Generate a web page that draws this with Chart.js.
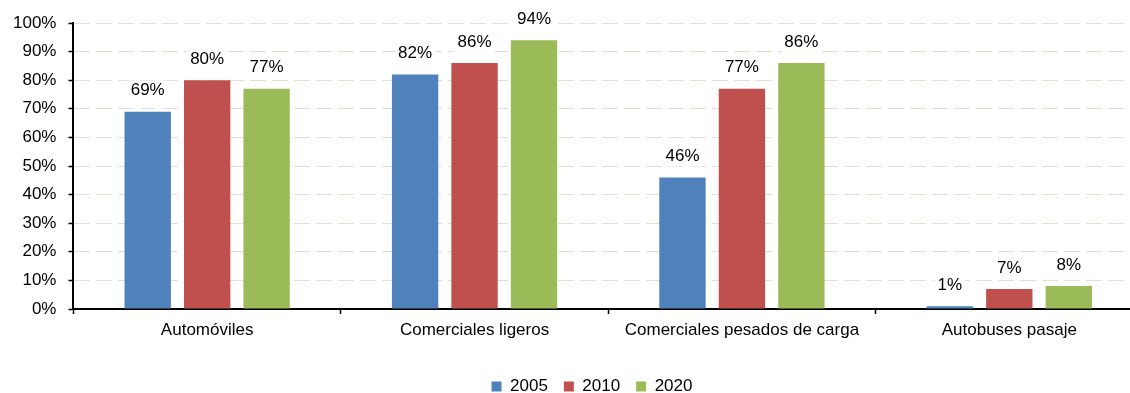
<!DOCTYPE html>
<html>
<head>
<meta charset="utf-8">
<script src="https://cdn.jsdelivr.net/npm/chart.js@4"></script>
<style>
  html, body { margin: 0; padding: 0; background: #fff; overflow: hidden; }
  #wrap { position: absolute; left: 0; top: 0; width: 1183px; height: 405px; }
</style>
</head>
<body>
<div id="wrap"><canvas id="grafico"></canvas></div>
<script>
// Categorías de vehículos y porcentajes por año
const categorias = ['Automóviles', 'Comerciales ligeros', 'Comerciales pesados de carga', 'Autobuses pasaje'];
const anios = ['2005', '2010', '2020'];
const valores2005 = [69, 82, 46, 1];
const valores2010 = [80, 86, 77, 7];
const valores2020 = [77, 94, 86, 8];
const colores = ['#4F81BD', '#C0504D', '#9BBB59'];

const fuente = '"Liberation Sans", Arial, sans-serif';
Chart.defaults.font.family = fuente;
Chart.defaults.font.size = 17;
Chart.defaults.color = '#000';

// Etiquetas de valor encima de cada barra (fondo blanco)
const etiquetasValor = {
  id: 'etiquetasValor',
  afterDatasetsDraw(chart) {
    const ctx = chart.ctx;
    ctx.save();
    ctx.font = '17px ' + fuente;
    ctx.textAlign = 'center';
    ctx.textBaseline = 'middle';
    chart.data.datasets.forEach((ds, i) => {
      chart.getDatasetMeta(i).data.forEach((bar, j) => {
        const txt = ds.data[j] + '%';
        const w = ctx.measureText(txt).width;
        const y = bar.y - 21;
        ctx.fillStyle = '#fff';
        ctx.fillRect(bar.x - w / 2 - 3, y - 10, w + 6, 20);
        ctx.fillStyle = '#000';
        ctx.fillText(txt, bar.x, y);
      });
    });
    ctx.restore();
  }
};

// Desplaza un poco la leyenda hacia la derecha
const moverLeyenda = {
  id: 'moverLeyenda',
  afterLayout(chart) {
    chart.legend.left += 20;
    chart.legend.right += 20;
  }
};

const series = [valores2005, valores2010, valores2020];

new Chart(document.getElementById('grafico'), {
  type: 'bar',
  data: {
    labels: categorias,
    datasets: series.map((v, i) => ({
      label: anios[i],
      data: v,
      backgroundColor: colores[i],
      borderWidth: 0,
      categoryPercentage: 0.667,
      barPercentage: 0.78
    }))
  },
  options: {
    responsive: true,
    maintainAspectRatio: false,
    animation: false,
    layout: { padding: { top: 23, left: 1, right: 40, bottom: 0 } },
    plugins: {
      legend: {
        position: 'bottom',
        labels: { boxWidth: 10, boxHeight: 10, padding: 16, font: { size: 17 } }
      },
      tooltip: { enabled: false }
    },
    scales: {
      x: {
        offset: true,
        afterFit(scale) { scale.height = 53; },
        grid: { offset: true, drawOnChartArea: false, tickLength: 5, tickColor: '#000', tickWidth: 1.5 },
        border: { color: '#000', width: 2 },
        ticks: { padding: 6, maxRotation: 0 }
      },
      y: {
        min: 0,
        max: 100,
        ticks: { stepSize: 10, padding: 12, callback: v => v + '%' },
        grid: { color: '#E3E0D3', tickLength: 5, tickColor: '#000', tickWidth: 1.5 },
        border: { color: '#000', width: 2, dash: [16, 6] }
      }
    }
  },
  plugins: [etiquetasValor, moverLeyenda]
});
</script>
</body>
</html>
